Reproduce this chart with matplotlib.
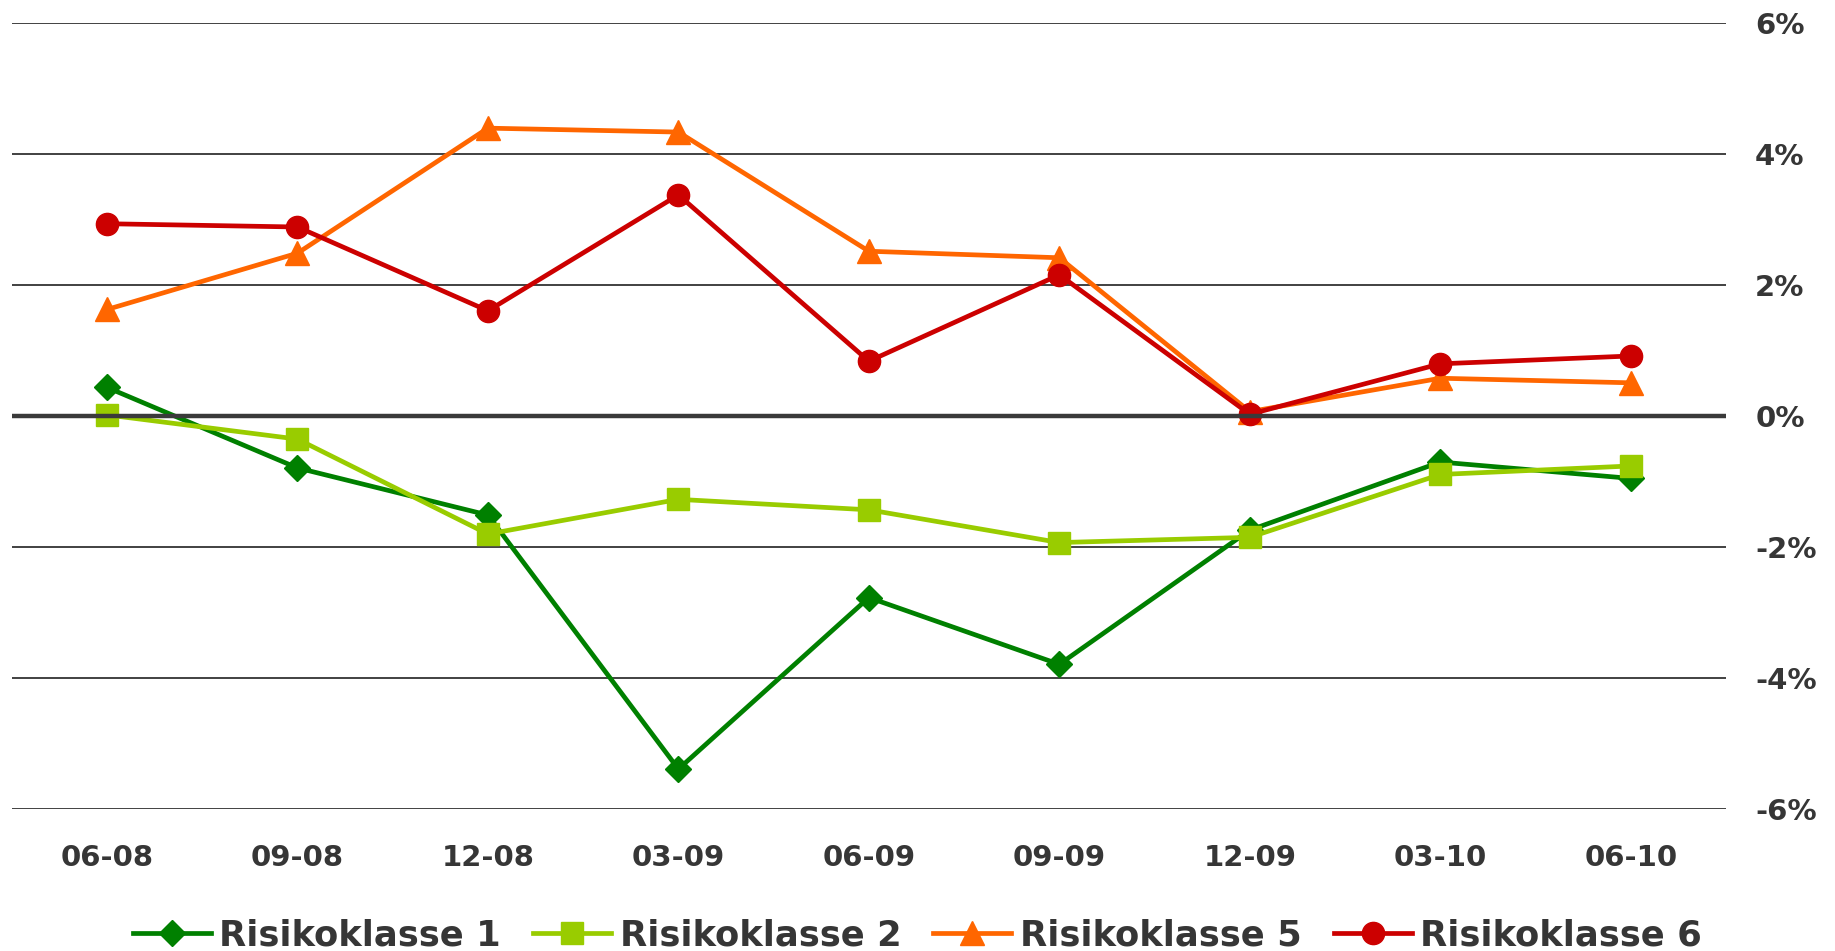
import matplotlib
matplotlib.use("Agg")
import matplotlib.pyplot as plt

periods = ["06-08", "09-08", "12-08", "03-09", "06-09", "09-09", "12-09", "03-10", "06-10"]
rk1 = [0.44, -0.79, -1.51, -5.39, -2.77, -3.79, -1.74, -0.70, -0.95]
rk2 = [0.02, -0.35, -1.80, -1.27, -1.43, -1.93, -1.85, -0.89, -0.76]
rk5 = [1.63, 2.49, 4.40, 4.34, 2.52, 2.42, 0.07, 0.58, 0.51]
rk6 = [2.94, 2.89, 1.61, 3.38, 0.84, 2.16, 0.03, 0.80, 0.92]
yticks = [-6, -4, -2, 0, 2, 4, 6]

text_col = "#363636"

fig = plt.figure(figsize=(18.35, 9.51), dpi=100)
ax = fig.add_axes([0.0064, 0.1493, 0.9342, 0.8261])

x = range(len(periods))
ax.plot(x, rk1, color="#008000", lw=3.4, marker="D", ms=13, label="Risikoklasse 1", zorder=3)
ax.plot(x, rk2, color="#99CC00", lw=3.4, marker="s", ms=16, label="Risikoklasse 2", zorder=3)
ax.plot(x, rk5, color="#FF6600", lw=3.4, marker="^", ms=17, label="Risikoklasse 5", zorder=3)
ax.plot(x, rk6, color="#CC0000", lw=3.4, marker="o", ms=16, label="Risikoklasse 6", zorder=3)

ax.axhline(0, color="#3a3a3a", lw=3.2, zorder=5)

ax.set_xlim(-0.5, 8.5)
ax.set_ylim(-6, 6)
ax.set_yticks(yticks)
ax.set_yticklabels([f"{v}%" for v in yticks])
ax.set_xticks(list(x))
ax.set_xticklabels(periods)
ax.yaxis.tick_right()
ax.yaxis.grid(True, color="#333333", lw=1.3)
ax.set_axisbelow(True)
for s in ax.spines.values():
    s.set_visible(False)
ax.tick_params(axis="y", length=0, pad=21, labelsize=21, labelcolor=text_col)
ax.tick_params(axis="x", length=0, pad=25, labelsize=21, labelcolor=text_col)
for lab in ax.get_xticklabels() + ax.get_yticklabels():
    lab.set_fontweight("bold")

leg = fig.legend(loc="center", bbox_to_anchor=(0.5, 0.016), ncol=4, frameon=False,
                 prop={"size": 25.5, "weight": "bold"}, handlelength=2.2,
                 handletextpad=0.25, columnspacing=0.9, borderaxespad=0)
for t in leg.get_texts():
    t.set_color(text_col)

fig.savefig("out.png", dpi=100)
